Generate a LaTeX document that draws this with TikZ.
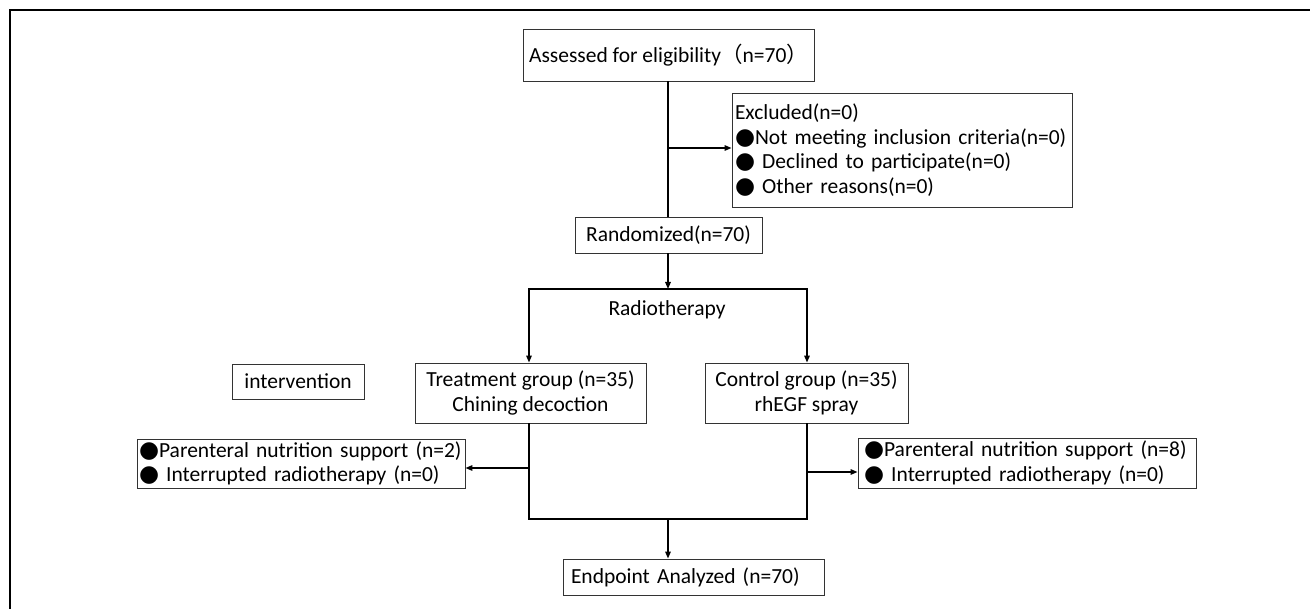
\documentclass[tikz,border=0pt]{standalone}
\usepackage{fontspec}
\setmainfont{Carlito}
\newfontfamily\cjkf{Noto Sans CJK SC}
\newfontfamily\symf{DejaVu Sans}
\usetikzlibrary{arrows.meta}
\newcommand{\bul}{{\symf\fontsize{23}{24}\selectfont ●}}
\newcommand{\fs}{\fontsize{21.5}{24.5}\selectfont}
\begin{document}
\begin{tikzpicture}[x=1pt,y=-1pt,
  box/.style={draw=black!80,line width=0.9pt,rectangle,inner sep=0pt,anchor=center,font=\fs},
  lbox/.style={box,align=left,inner xsep=8pt},
  conn/.style={line width=1.5pt,line cap=rect},
  arr/.style={line width=1.5pt,-{Triangle[length=7pt,width=5.5pt]}}]
\useasboundingbox (0,0) rectangle (1310,609);
\draw[line width=2pt] (10,609) -- (10,10) -- (1310,10);
% nodes
\node[box,minimum width=291pt,minimum height=52pt] (assess) at (668.5,55) {Assessed for eligibility{\cjkf（}n=70{\cjkf）}};
\node[lbox,text width=334pt,minimum height=114pt,inner xsep=3pt] (excl) at (902,150) {\mbox{Excluded(n=0)}\\\mbox{\bul Not meeting inclusion criteria(n=0)}\\\mbox{\bul\ Declined to participate(n=0)}\\\mbox{\bul\ Other reasons(n=0)}};
\node[box,minimum width=187pt,minimum height=36pt] (rand) at (668.5,235) {Randomized(n=70)};
\node[font=\fs] (radio) at (667,310) {Radiotherapy};
\node[box,minimum width=231pt,minimum height=60pt,align=center] (treat) at (530.5,393) {Treatment group (n=35)\\Chining decoction};
\node[box,minimum width=203pt,minimum height=60pt,align=center] (ctrl) at (806.5,393) {Control group (n=35)\\rhEGF spray};
\node[box,minimum width=132pt,minimum height=35pt] (interv) at (298,381.5) {intervention};
\node[lbox,text width=324pt,minimum height=49pt,inner xsep=2pt] (lout) at (301,463.5) {\mbox{\bul Parenteral nutrition support (n=2)}\\\mbox{\bul\ Interrupted radiotherapy (n=0)}};
\node[lbox,text width=326pt,minimum height=50pt,inner xsep=6pt] (rout) at (1027,463) {\mbox{\bul Parenteral nutrition support (n=8)}\\\mbox{\bul\ Interrupted radiotherapy (n=0)}};
\node[lbox,text width=245pt,minimum height=36pt] (endp) at (693.5,577) {Endpoint Analyzed (n=70)};
% coordinates
\coordinate (a1) at (668,148);
\coordinate (r1) at (668,289);
\coordinate (tl) at (529,289);
\coordinate (tr) at (807,289);
\coordinate (bl) at (529,519);
\coordinate (br) at (807,519);
\coordinate (bm) at (668,519);
\coordinate (lj) at (529,468);
\coordinate (rj) at (807,472);
% connectors
\draw[conn] (assess.south -| a1) -- (rand.north -| a1);
\draw[arr] (a1) -- (excl.west |- a1);
\draw[arr] (rand.south -| r1) -- (r1);
\draw[conn] (tl) -- (tr);
\draw[arr] (tl) -- (treat.north -| tl);
\draw[arr] (tr) -- (ctrl.north -| tr);
\draw[conn] (treat.south -| bl) -- (bl) -- (br) -- (ctrl.south -| br);
\draw[arr] (lj) -- (lout.east |- lj);
\draw[arr] (rj) -- (rout.west |- rj);
\draw[arr] (bm) -- (endp.north -| bm);
\end{tikzpicture}
\end{document}
